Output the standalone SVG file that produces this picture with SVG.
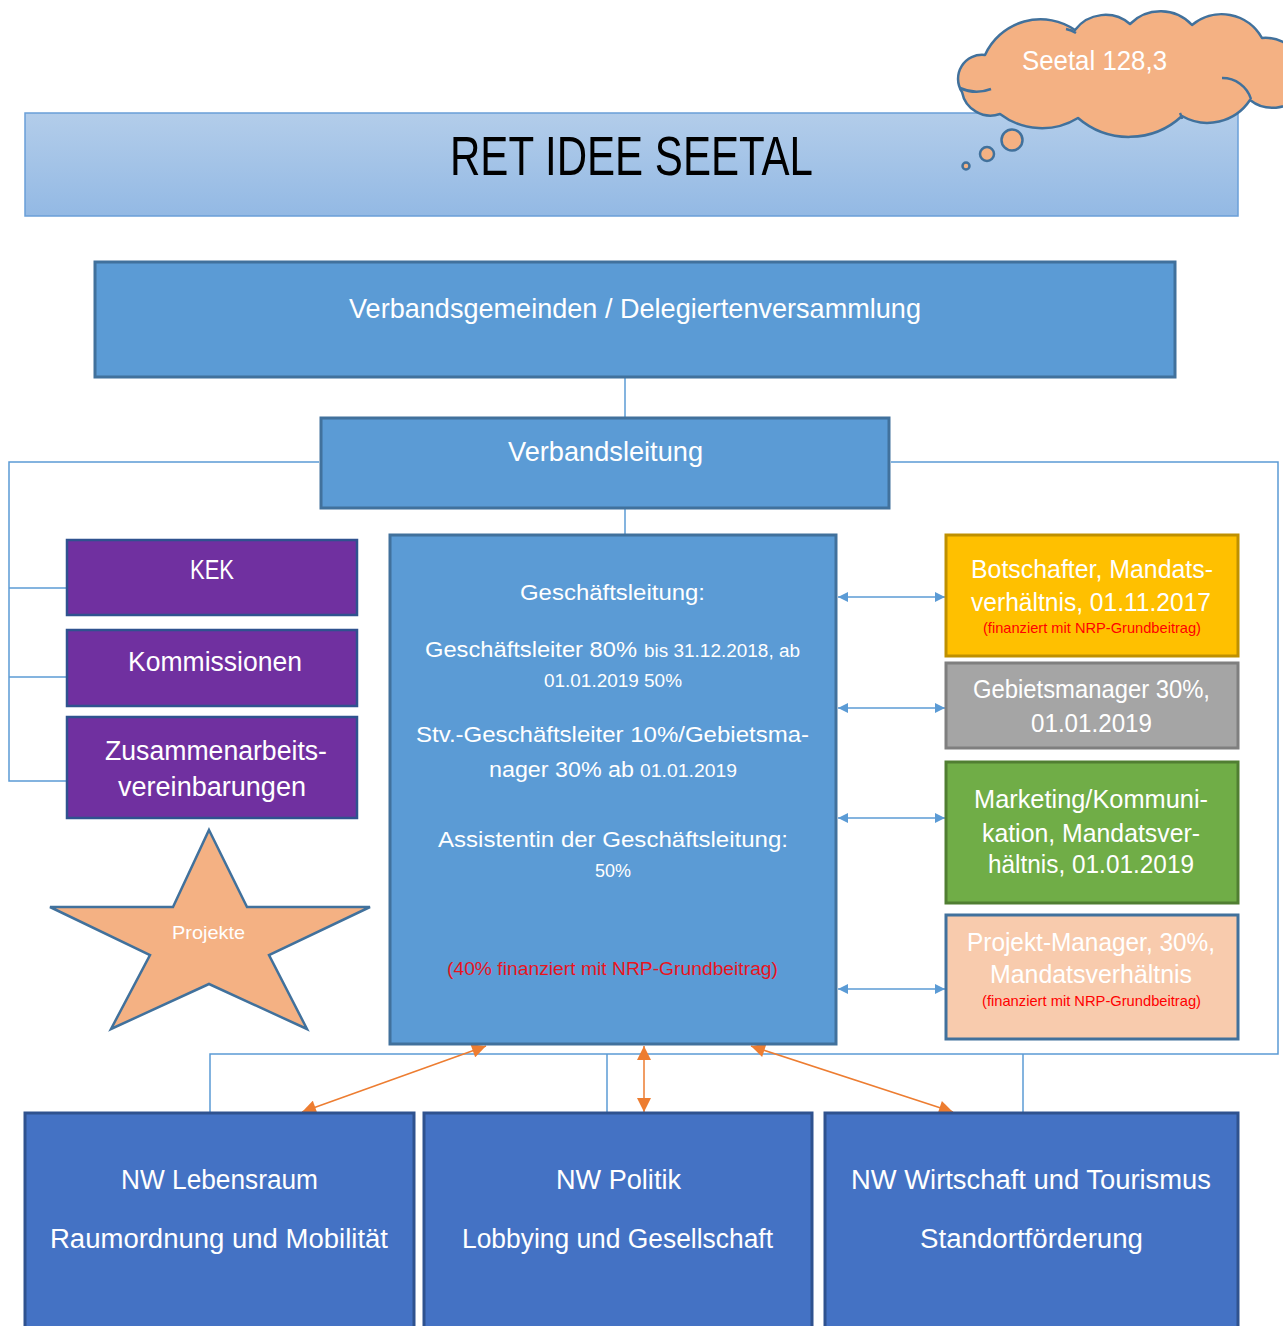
<svg xmlns="http://www.w3.org/2000/svg" width="1283" height="1326" viewBox="0 0 1283 1326">
<style>
text{font-family:"Liberation Sans Narrow","Liberation Sans",Arial,sans-serif;fill:#fff}
.c{font-family:"Liberation Sans",Arial,sans-serif}
.red{fill:#ff0000}
.box{stroke-width:3}
.blue{fill:#5b9bd5;stroke:#41719c}
.purple{fill:#7030a0;stroke:#2f528f;stroke-width:2.5}
.nw{fill:#4472c4;stroke:#2f528f;stroke-width:3}
.ln{fill:none;stroke:#5b9bd5;stroke-width:1.5}
.ba{stroke:#5b9bd5;stroke-width:1.5;marker-start:url(#bs);marker-end:url(#be)}
.oa{stroke:#ed7d31;stroke-width:1.5;marker-start:url(#os);marker-end:url(#oe)}
</style>
<defs>
<linearGradient id="tg" x1="0" y1="0" x2="0" y2="1">
<stop offset="0" stop-color="#b3cdea"/>
<stop offset="1" stop-color="#93b9e4"/>
</linearGradient>
<marker id="be" viewBox="0 0 10 10" refX="10" refY="5" markerWidth="10" markerHeight="10" markerUnits="userSpaceOnUse" orient="auto"><path d="M0,0 L10,5 L0,10 z" fill="#5b9bd5"/></marker>
<marker id="bs" viewBox="0 0 10 10" refX="0" refY="5" markerWidth="10" markerHeight="10" markerUnits="userSpaceOnUse" orient="auto"><path d="M10,0 L0,5 L10,10 z" fill="#5b9bd5"/></marker>
<marker id="oe" viewBox="0 0 10 10" refX="10" refY="5" markerWidth="15" markerHeight="14" markerUnits="userSpaceOnUse" orient="auto"><path d="M0,0 L10,5 L0,10 z" fill="#ed7d31"/></marker>
<marker id="os" viewBox="0 0 10 10" refX="0" refY="5" markerWidth="15" markerHeight="14" markerUnits="userSpaceOnUse" orient="auto"><path d="M10,0 L0,5 L10,10 z" fill="#ed7d31"/></marker>
</defs>
<rect width="1283" height="1326" fill="#fff"/>

<g id="title">
<rect x="25" y="113" width="1213" height="103" fill="url(#tg)" stroke="#6a9fd8" stroke-width="1.5"/>
<text x="450" y="175" font-size="56" textLength="363" lengthAdjust="spacingAndGlyphs" style="fill:#000">RET IDEE SEETAL</text>
</g>

<g id="cloud">
<path d="M962,92 A24,24 0 0 1 985,55 A61,61 0 0 1 1075,30 A38,38 0 0 1 1130,24 A43,43 0 0 1 1192,25 A46,46 0 0 1 1262,38 A39,39 0 0 1 1300,95 A36,36 0 0 1 1250,100 A51,51 0 0 1 1182,116 A78,78 0 0 1 1078,118 A69,69 0 0 1 1000,114 A29,29 0 0 1 962,92 Z" fill="#f4b183" stroke="#41719c" stroke-width="2.5" stroke-linejoin="round"/>
<path d="M1222,78 A30,30 0 0 1 1251,99 M960,88 A40,40 0 0 0 991,89 M1066,29 A30,30 0 0 1 1076,33 M1180,113 A20,20 0 0 1 1182,119" fill="none" stroke="#41719c" stroke-width="2.5"/>
<g fill="#f4b183" stroke="#41719c" stroke-width="2.5">
<circle cx="1012" cy="140" r="10.5"/>
<circle cx="987" cy="154" r="7"/>
<circle cx="966" cy="166" r="3.5"/>
</g>
<text x="1022" y="70" font-size="28" textLength="145" lengthAdjust="spacingAndGlyphs">Seetal 128,3</text>
</g>

<g id="connectors">
<line class="ln" x1="625" y1="378" x2="625" y2="418"/>
<line class="ln" x1="625" y1="508" x2="625" y2="535"/>
<polyline class="ln" points="319,462 9,462 9,781 67,781"/>
<line class="ln" x1="9" y1="588" x2="67" y2="588"/>
<line class="ln" x1="9" y1="677" x2="67" y2="677"/>
<polyline class="ln" points="891,462 1278,462 1278,1054 210,1054 210,1113"/>
<line class="ln" x1="607" y1="1054" x2="607" y2="1113"/>
<line class="ln" x1="1023" y1="1054" x2="1023" y2="1113"/>
<line class="ba" x1="838" y1="597" x2="945" y2="597"/>
<line class="ba" x1="838" y1="708" x2="945" y2="708"/>
<line class="ba" x1="838" y1="818" x2="945" y2="818"/>
<line class="ba" x1="838" y1="989" x2="945" y2="989"/>
<line class="oa" x1="486" y1="1046" x2="302" y2="1112"/>
<line class="oa" x1="644" y1="1046" x2="644" y2="1112"/>
<line class="oa" x1="751" y1="1046" x2="953" y2="1112"/>
</g>

<g id="verbandsgemeinden">
<rect class="blue box" x="95" y="262" width="1080" height="115"/>
<text x="349" y="318" font-size="28" textLength="572" lengthAdjust="spacingAndGlyphs">Verbandsgemeinden / Delegiertenversammlung</text>
</g>

<g id="verbandsleitung">
<rect class="blue box" x="321" y="418" width="568" height="90"/>
<text x="508" y="461" font-size="28" textLength="195" lengthAdjust="spacingAndGlyphs">Verbandsleitung</text>
</g>

<g id="kek">
<rect class="purple" x="67" y="540" width="290" height="75"/>
<text x="190" y="579" font-size="27" textLength="44" lengthAdjust="spacingAndGlyphs">KEK</text>
</g>
<g id="kommissionen">
<rect class="purple" x="67" y="630" width="290" height="76"/>
<text x="128" y="671" font-size="27" textLength="174" lengthAdjust="spacingAndGlyphs">Kommissionen</text>
</g>
<g id="zusammenarbeit">
<rect class="purple" x="67" y="717" width="290" height="101"/>
<text x="105" y="760" font-size="27" textLength="222" lengthAdjust="spacingAndGlyphs">Zusammenarbeits-</text>
<text x="118" y="796" font-size="27" textLength="188" lengthAdjust="spacingAndGlyphs">vereinbarungen</text>
</g>

<g id="projekte">
<polygon points="209,830 247,907 370,907 269,955 307,1029 209,984 111,1029 150,955 50,907 173,907" fill="#f4b183" stroke="#41719c" stroke-width="2.5" stroke-linejoin="miter"/>
<text x="172" y="939" font-size="19" textLength="73" lengthAdjust="spacingAndGlyphs">Projekte</text>
</g>

<g id="geschaeftsleitung">
<rect class="blue box" x="390" y="535" width="446" height="509"/>
<text class="c" x="520" y="600" font-size="22" textLength="185" lengthAdjust="spacingAndGlyphs">Geschäftsleitung:</text>
<text class="c" x="425" y="657" font-size="22" textLength="212" lengthAdjust="spacingAndGlyphs">Geschäftsleiter 80%</text>
<text class="c" x="644" y="657" font-size="18" textLength="156" lengthAdjust="spacingAndGlyphs">bis 31.12.2018, ab</text>
<text class="c" x="544" y="687" font-size="18" textLength="138" lengthAdjust="spacingAndGlyphs">01.01.2019 50%</text>
<text class="c" x="416" y="742" font-size="22" textLength="393" lengthAdjust="spacingAndGlyphs">Stv.-Geschäftsleiter 10%/Gebietsma-</text>
<text class="c" x="489" y="777" font-size="22" textLength="145" lengthAdjust="spacingAndGlyphs">nager 30% ab</text>
<text class="c" x="640" y="777" font-size="18" textLength="97" lengthAdjust="spacingAndGlyphs">01.01.2019</text>
<text class="c" x="438" y="847" font-size="22" textLength="350" lengthAdjust="spacingAndGlyphs">Assistentin der Geschäftsleitung:</text>
<text class="c" x="595" y="877" font-size="18" textLength="36" lengthAdjust="spacingAndGlyphs">50%</text>
<text class="c" x="447" y="975" font-size="18" textLength="331" lengthAdjust="spacingAndGlyphs" style="fill:#e8141e">(40% finanziert mit NRP-Grundbeitrag)</text>
</g>

<g id="botschafter">
<rect class="box" x="946" y="535" width="292" height="121" fill="#ffc000" stroke="#bf9000"/>
<text x="971" y="578" font-size="25" textLength="242" lengthAdjust="spacingAndGlyphs">Botschafter, Mandats-</text>
<text x="971" y="611" font-size="25" textLength="240" lengthAdjust="spacingAndGlyphs">verhältnis, 01.11.2017</text>
<text class="red" x="983" y="633" font-size="15" textLength="218" lengthAdjust="spacingAndGlyphs">(finanziert mit NRP-Grundbeitrag)</text>
</g>

<g id="gebietsmanager">
<rect class="box" x="946" y="663" width="292" height="85" fill="#a5a5a5" stroke="#7f7f7f"/>
<text x="973" y="698" font-size="25" textLength="237" lengthAdjust="spacingAndGlyphs">Gebietsmanager 30%,</text>
<text x="1031" y="732" font-size="25" textLength="121" lengthAdjust="spacingAndGlyphs">01.01.2019</text>
</g>

<g id="marketing">
<rect class="box" x="946" y="762" width="292" height="141" fill="#70ad47" stroke="#507e32"/>
<text x="974" y="808" font-size="25" textLength="234" lengthAdjust="spacingAndGlyphs">Marketing/Kommuni-</text>
<text x="982" y="842" font-size="25" textLength="218" lengthAdjust="spacingAndGlyphs">kation, Mandatsver-</text>
<text x="988" y="873" font-size="25" textLength="206" lengthAdjust="spacingAndGlyphs">hältnis, 01.01.2019</text>
</g>

<g id="projektmanager">
<rect class="box" x="946" y="915" width="292" height="124" fill="#f8cbad" stroke="#41719c"/>
<text x="967" y="951" font-size="25" textLength="248" lengthAdjust="spacingAndGlyphs">Projekt-Manager, 30%,</text>
<text x="990" y="983" font-size="25" textLength="202" lengthAdjust="spacingAndGlyphs">Mandatsverhältnis</text>
<text class="red" x="982" y="1006" font-size="15" textLength="219" lengthAdjust="spacingAndGlyphs">(finanziert mit NRP-Grundbeitrag)</text>
</g>

<g id="nw-lebensraum">
<rect class="nw" x="25" y="1113" width="389" height="220"/>
<text x="121" y="1189" font-size="27" textLength="197" lengthAdjust="spacingAndGlyphs">NW Lebensraum</text>
<text x="50" y="1248" font-size="27" textLength="338" lengthAdjust="spacingAndGlyphs">Raumordnung und Mobilität</text>
</g>
<g id="nw-politik">
<rect class="nw" x="424" y="1113" width="388" height="220"/>
<text x="556" y="1189" font-size="27" textLength="125" lengthAdjust="spacingAndGlyphs">NW Politik</text>
<text x="462" y="1248" font-size="27" textLength="311" lengthAdjust="spacingAndGlyphs">Lobbying und Gesellschaft</text>
</g>
<g id="nw-wirtschaft">
<rect class="nw" x="825" y="1113" width="413" height="220"/>
<text x="851" y="1189" font-size="27" textLength="360" lengthAdjust="spacingAndGlyphs">NW Wirtschaft und Tourismus</text>
<text x="920" y="1248" font-size="27" textLength="223" lengthAdjust="spacingAndGlyphs">Standortförderung</text>
</g>
</svg>
